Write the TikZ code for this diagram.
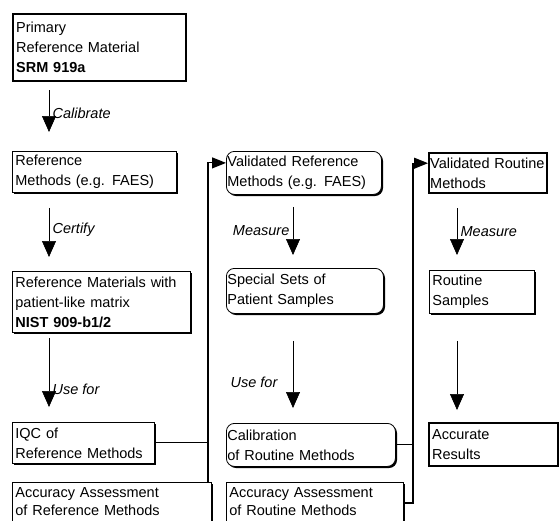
\documentclass[tikz,border=0pt]{standalone}
\usepackage{fontspec}
\setmainfont{Liberation Sans}
\usetikzlibrary{arrows.meta,shadows}
\hyphenpenalty=10000

\begin{document}
\begin{tikzpicture}[x=1pt,y=-1pt,
	every node/.style	=	{font=\fontsize{14.5}{20}\selectfont},
	plain box/.style	=	{draw,line width=.8pt,fill=white,anchor=north west,align=left,inner xsep=3pt,inner ysep=2pt,
								drop shadow={shadow xshift=1.6pt,shadow yshift=-1.6pt,fill=black,opacity=1}},
	round box/.style	=	{plain box,rounded corners=8pt,inner xsep=1pt},
	cut box/.style		=	{plain box,font=\fontsize{14.5}{18}\selectfont},
	bold box/.style		=	{draw,line width=2.4pt,fill=white,anchor=north west,align=left,inner xsep=3pt,inner ysep=2pt},
	step arrow/.style	=	{line width=.6pt,-{Triangle[length=16pt,width=14pt]}},
	feed arrow/.style	=	{line width=1.1pt,-{Triangle[length=14pt,width=11pt]}},
	step label/.style	=	{font=\fontsize{14.5}{20}\selectfont\itshape}]

	\useasboundingbox (0,0) rectangle (559,520);
	\clip (0,0) rectangle (559,520);

	\node[bold box,text width=167pt,minimum height=67pt] (primary) at (12,13)
		{Primary\\Reference Material\\\textbf{SRM 919a}};
	\node[plain box,text width=158pt,minimum height=41pt] (refmethods) at (12,151)
		{Reference\\Methods (e.g. FAES)};
	\node[plain box,text width=172pt,minimum height=61pt] (refmaterials) at (12,271)
		{Reference Materials with\\patient-like matrix\\\textbf{NIST 909-b1/2}};
	\node[plain box,text width=136pt,minimum height=41pt] (iqc) at (12,422)
		{IQC of\\Reference Methods};
	\node[cut box,text width=193pt,minimum height=39pt] (accref) at (12,482)
		{Accuracy Assessment\\of Reference Methods};

	\node[round box,text width=153pt,minimum height=43pt] (valref) at (226,151)
		{Validated Reference\\Methods (e.g. FAES)};
	\node[round box,text width=155pt,minimum height=45pt] (special) at (226,268)
		{Special Sets of\\Patient Samples};
	\node[round box,text width=167pt,minimum height=43pt] (calib) at (226,423)
		{Calibration\\of Routine Methods};
	\node[cut box,text width=171pt,minimum height=39pt] (accrout) at (226,482)
		{Accuracy Assessment\\of Routine Methods};

	\node[bold box,text width=116pt,inner xsep=1pt,minimum height=40pt] (valrout) at (428,152)
		{Validated Routine\\Methods};
	\node[plain box,text width=99pt,minimum height=43pt] (routsamples) at (429,270)
		{Routine\\Samples};
	\node[bold box,text width=123pt,minimum height=43pt] (accurate) at (428,422)
		{Accurate\\Results};

	\draw[step arrow] ([xshift=37pt,yshift=-8pt]primary.south west) -- ([xshift=37pt,yshift=19pt]refmethods.north west)
		node[step label,anchor=west,pos=.55] {Calibrate};
	\draw[step arrow] ([xshift=37pt,yshift=-15pt]refmethods.south west) -- ([xshift=37pt,yshift=14pt]refmaterials.north west)
		node[step label,anchor=west,pos=.45] {Certify};
	\draw[step arrow] ([xshift=37pt,yshift=-5pt]refmaterials.south west) -- ([xshift=37pt,yshift=15pt]iqc.north west)
		node[step label,anchor=west,pos=.75] {Use for};

	\draw[step arrow] ([xshift=67pt,yshift=-12pt]valref.south west) -- ([xshift=67pt,yshift=13pt]special.north west)
		node[step label,anchor=east,pos=.5] {Measure};
	\draw[step arrow] ([xshift=67pt,yshift=-27pt]special.south west) -- ([xshift=67pt,yshift=15pt]calib.north west)
		node[step label,anchor=east,pos=.62,xshift=-12pt] {Use for};

	\draw[step arrow] ([xshift=29pt,yshift=-14pt]valrout.south west) -- ([xshift=28pt,yshift=15pt]routsamples.north west)
		node[step label,anchor=west,pos=.5] {Measure};
	\draw[step arrow] ([xshift=28pt,yshift=-27pt]routsamples.south west) -- ([xshift=29pt,yshift=12pt]accurate.north west);

	\coordinate (fbl) at (208,482);
	\coordinate (fbr) at (413,503);
	\draw[feed arrow] (fbl) |- ([yshift=10pt]valref.west);
	\draw[line width=1.1pt] (iqc.east) -- (iqc.east -| fbl);
	\draw[feed arrow] (accrout.east |- fbr) -- (fbr) |- ([yshift=10pt]valrout.west);
	\draw[line width=1.1pt] (calib.east) -- (calib.east -| fbr);
\end{tikzpicture}
\end{document}
